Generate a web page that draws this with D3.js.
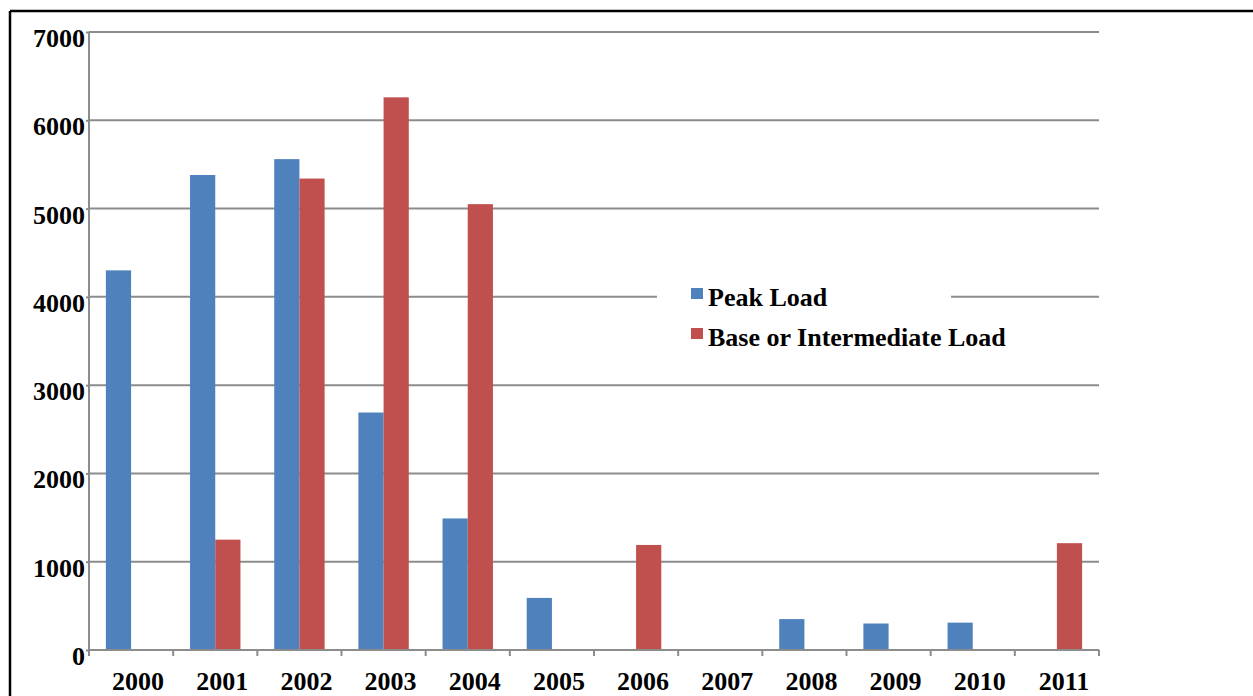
<!DOCTYPE html>
<html>
<head>
<meta charset="utf-8">
<script src="https://cdn.jsdelivr.net/npm/d3@7"></script>
<style>
  html, body { margin: 0; padding: 0; background: #fff; }
  svg { display: block; }
  text { font-family: "Liberation Serif", "Times New Roman", serif; font-weight: bold; fill: #000; }
</style>
</head>
<body>
<svg id="chart" width="1253" height="696"></svg>
<script>
// Capacity additions by year, split by load type
const years = ["2000","2001","2002","2003","2004","2005","2006","2007","2008","2009","2010","2011"];
const peakLoad = [4300, 5380, 5560, 2690, 1490, 590, 0, 0, 350, 300, 310, 0];
const baseLoad = [0, 1250, 5340, 6260, 5050, 0, 1190, 0, 0, 0, 0, 1210];
const seriesNames = ["Peak Load", "Base or Intermediate Load"];
const seriesColors = ["#4F81BD", "#C0504D"];
const yTicks = [0, 1000, 2000, 3000, 4000, 5000, 6000, 7000];

const svg = d3.select("#chart");

// Outer frame
svg.append("line").attr("x1", 10).attr("x2", 10).attr("y1", 11).attr("y2", 696)
  .attr("stroke", "#000").attr("stroke-width", 2.5);
svg.append("line").attr("x1", 10).attr("x2", 1253).attr("y1", 11).attr("y2", 11)
  .attr("stroke", "#000").attr("stroke-width", 2.5);

const plotLeft = 89, plotRight = 1099, plotTop = 32, plotBottom = 650;

const x = d3.scaleBand().domain(years).range([plotLeft, plotRight]).paddingInner(0).paddingOuter(0);
const xs = d3.scaleBand().domain([0, 1]).range([0, x.bandwidth()]).paddingInner(0).paddingOuter(0.67);
const y = d3.scaleLinear().domain([0, 7000]).range([plotBottom, plotTop]);

// Horizontal gridlines
svg.append("g").selectAll("line").data(yTicks.filter(d => d > 0)).join("line")
  .attr("x1", plotLeft).attr("x2", plotRight)
  .attr("y1", d => y(d)).attr("y2", d => y(d))
  .attr("stroke", "#8c8c8c").attr("stroke-width", 2);

// Y axis
const yAxis = svg.append("g").attr("transform", `translate(${plotLeft},0)`)
  .call(d3.axisLeft(y).tickValues(yTicks).tickFormat(d3.format("d")).tickSize(3).tickPadding(1));
yAxis.select(".domain").attr("stroke", "#8c8c8c").attr("stroke-width", 2)
  .attr("d", `M0,${plotTop}V${plotBottom + 5}`);
yAxis.selectAll(".tick line").attr("stroke", "#8c8c8c").attr("stroke-width", 2);
yAxis.selectAll(".tick text").attr("font-size", 26).attr("dy", "0.56em")
  .style("font-family", "'Liberation Serif', serif").style("font-weight", "bold").attr("fill", "#000");

// Bars
const data = years.map((yr, i) => ({ year: yr, values: [peakLoad[i], baseLoad[i]] }));
const groups = svg.append("g").selectAll("g").data(data).join("g")
  .attr("transform", d => `translate(${x(d.year)},0)`);
groups.selectAll("rect").data(d => d.values.map((v, k) => ({ v, k })).filter(e => e.v > 0)).join("rect")
  .attr("x", d => xs(d.k))
  .attr("width", xs.bandwidth())
  .attr("y", d => y(d.v))
  .attr("height", d => y(0) - y(d.v))
  .attr("fill", d => seriesColors[d.k]);

// X axis
const xAxisLine = svg.append("g").attr("transform", `translate(0,${plotBottom})`)
  .call(d3.axisBottom(x).tickSize(0));
xAxisLine.select(".domain").attr("stroke", "#8c8c8c").attr("stroke-width", 2)
  .attr("d", `M${plotLeft},0H${plotRight}`);
xAxisLine.selectAll(".tick text").attr("font-size", 26)
  .attr("y", 40).attr("dy", 0).attr("dx", 7)
  .style("font-family", "'Liberation Serif', serif").style("font-weight", "bold").attr("fill", "#000");

// Category boundary ticks
const bounds = years.map(yr => x(yr)).concat([plotRight]);
svg.append("g").selectAll("line").data(bounds).join("line")
  .attr("x1", d => d).attr("x2", d => d)
  .attr("y1", plotBottom).attr("y2", plotBottom + 6)
  .attr("stroke", "#8c8c8c").attr("stroke-width", 2);

// Legend
const legend = svg.append("g");
legend.append("rect").attr("x", 657).attr("y", 272).attr("width", 294).attr("height", 84).attr("fill", "#fff");
const items = legend.selectAll("g").data(seriesNames).join("g")
  .attr("transform", (d, i) => `translate(691,${288 + i * 40})`);
items.append("rect").attr("width", 12).attr("height", 11).attr("fill", (d, i) => seriesColors[i]);
items.append("text").attr("x", 17).attr("y", 18).attr("font-size", 26).text(d => d);
</script>
</body>
</html>
